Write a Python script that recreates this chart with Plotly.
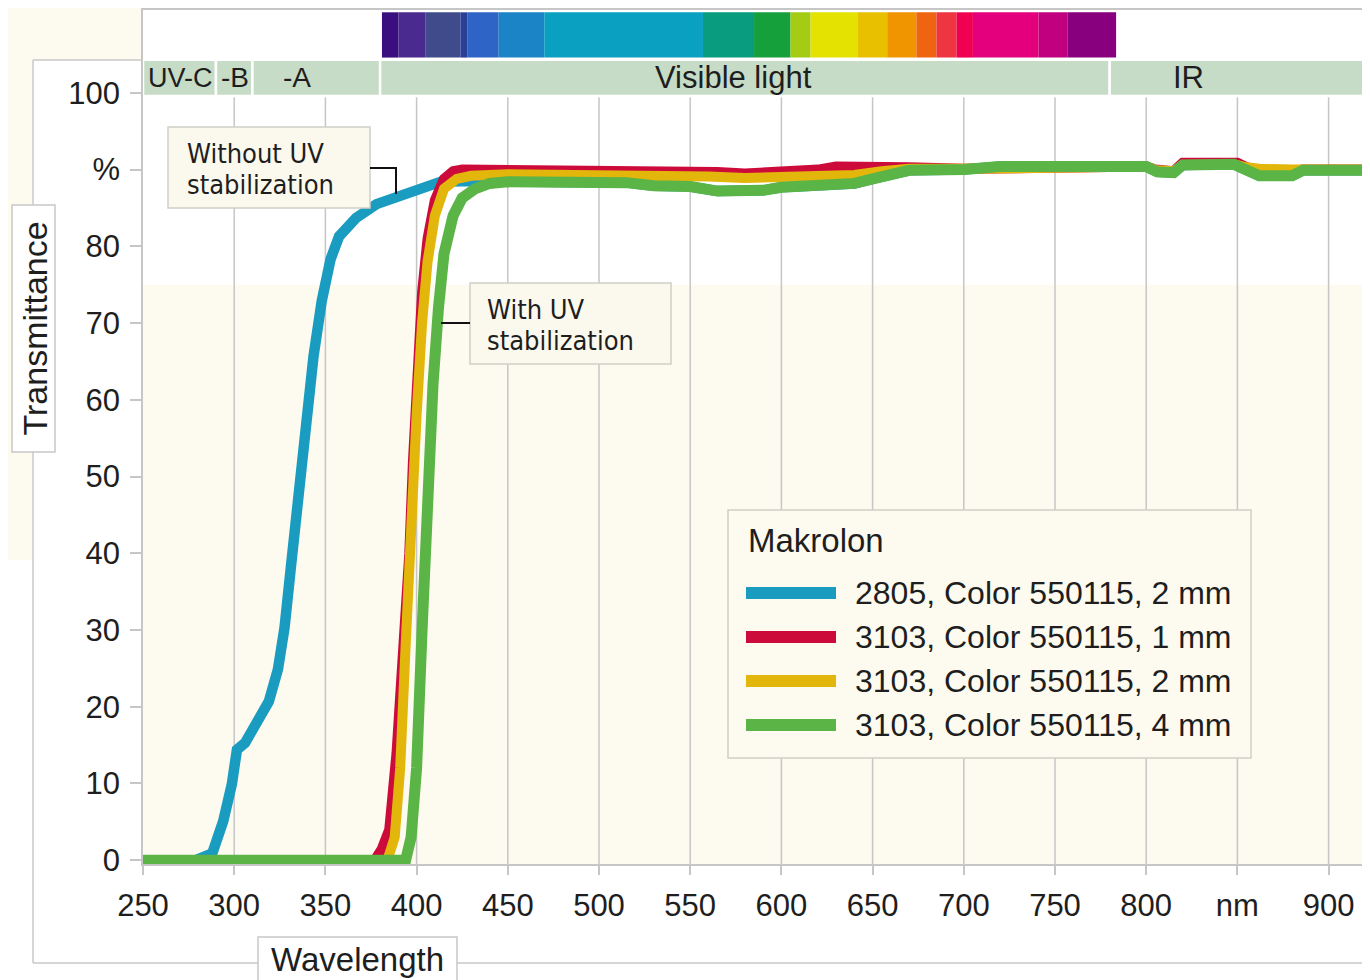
import plotly.graph_objects as go

# ---------------- data ----------------
series_names = ["2805, Color 550115, 2 mm", "3103, Color 550115, 1 mm",
                "3103, Color 550115, 2 mm", "3103, Color 550115, 4 mm"]
series_colors = ["#1a9bc0", "#cd0b3b", "#e2b60a", "#5bb446"]

wl_2805 = [250, 279, 288, 294, 298.7, 301.5, 306, 312.7, 319, 324, 327.6, 331.3, 335, 339.7,
           343.5, 348, 352.8, 357.5, 366.8, 378, 393, 405, 413, 430, 450, 500, 515, 530, 550,
           565, 580, 590, 600, 620, 640, 650, 660, 670, 700, 714, 720, 800, 806, 815, 820,
           848, 855, 862, 880, 886, 923]
tr_2805 = [0, 0, 0.9, 5.1, 9.9, 14.4, 15.3, 18.3, 20.7, 24.9, 30.3, 38.7, 47.1, 56.7,
           65.7, 72.9, 78.3, 81.3, 83.7, 85.5, 86.7, 87.8, 88.4, 88.5, 88.4, 88.4, 88.3, 87.9, 87.8,
           87.2, 87.1, 87.3, 87.7, 88.0, 88.2, 88.8, 89.5, 89.9, 90.0, 90.1, 90.4, 90.4, 89.7, 89.6, 90.6,
           90.7, 89.8, 89.2, 89.2, 89.9, 89.9]

wl_3103_1 = [250, 377, 381, 385, 389, 393, 396, 398, 400, 403, 406, 410, 415, 420, 425, 450,
             500, 550, 565, 580, 590, 600, 620, 630, 650, 660, 670, 700, 750, 800, 805, 815,
             820, 850, 856, 870, 886, 923]
tr_3103_1 = [0, 0, 1.5, 4, 14, 27, 40, 52, 62, 74, 81, 86, 88.8, 89.8, 90, 90,
             90, 89.9, 89.7, 89.5, 89.6, 89.8, 90, 90.4, 90.5, 90.5, 90.3, 90.1, 90.4, 90.4, 90.0, 89.8,
             90.9, 90.9, 90.2, 89.6, 90, 90]

wl_3103_2 = [250, 384, 388, 391, 394, 397, 400, 403, 406, 410, 415, 422, 430, 450, 500, 540,
             560, 580, 600, 620, 640, 655, 670, 700, 750, 800, 806, 815, 820, 848, 855, 862,
             880, 886, 923]
tr_3103_2 = [0, 0, 3, 12, 28, 45, 58, 70, 78, 84, 87.5, 88.8, 89.2, 89.4, 89.4, 89.3,
             89.1, 88.9, 89.0, 89.1, 89.3, 89.8, 90.1, 90.1, 90.4, 90.4, 89.9, 89.8, 90.6, 90.7, 90.3, 90.1,
             90.0, 90.0, 90.0]

wl_3103_4 = [250, 394, 397, 400, 403, 406, 409, 412, 415, 420, 425, 432, 440, 450, 500, 515,
             530, 550, 565, 580, 590, 600, 620, 640, 650, 660, 670, 700, 714, 720, 800, 806,
             815, 820, 848, 855, 862, 880, 886, 923]
tr_3103_4 = [0, 0, 3, 12, 30, 47, 62, 72, 79, 84, 86.3, 87.5, 88.2, 88.4, 88.4, 88.3,
             87.9, 87.8, 87.2, 87.1, 87.3, 87.7, 88.0, 88.2, 88.8, 89.5, 89.9, 90.0, 90.1, 90.4, 90.4, 89.7,
             89.6, 90.6, 90.7, 89.8, 89.2, 89.2, 89.9, 89.9]

x_ticks = [250, 300, 350, 400, 450, 500, 550, 600, 650, 700, 750, 800, 850, 900]
x_ticktext = ["250", "300", "350", "400", "450", "500", "550", "600", "650", "700", "750", "800", "nm", "900"]
y_ticks = [0, 10, 20, 30, 40, 50, 60, 70, 80, 90, 100]
y_ticktext = ["0", "10", "20", "30", "40", "50", "60", "70", "80", "%", "100"]

band_names = ["UV-C", "-B", "-A", "Visible light", "IR"]
band_start = [250, 290, 310, 380, 780]
band_end = [290, 310, 380, 780, 923]
band_label_x = [270.8, 300.4, 334.4, 574, 823]

spec_start = [381, 390, 405, 424, 428, 445, 470, 557, 585, 605, 616, 642, 658, 674, 685, 696, 705, 741, 757]
spec_end = [390, 405, 424, 428, 445, 470, 557, 585, 605, 616, 642, 658, 674, 685, 696, 705, 741, 757, 783.5]
spec_colors = ["#3a0e7e", "#4a2a8e", "#3f4b8a", "#2a3f96", "#2e64c6", "#1b84c6", "#0aa0c2", "#0a9c7e",
               "#16a03c", "#a4cc14", "#e4e200", "#e8c000", "#f09400", "#ef6410", "#ef3640", "#ef0050",
               "#e4007c", "#c0007e", "#88007e"]

# ---------------- layout calibration ----------------
# page has an 8px body margin, so the figure is 8px smaller than the window
W, H = 1362, 972
L, R, T, B = 135, 0, 2, 116
# plot area in window pixels
PL, PR, PT, PB = 143, 1370, 10, 864
X0, X1 = 250.0, 922.7
Y0, Y1 = -0.5, 110.8


def px2x(px):
    return X0 + (px - PL) / (PR - PL) * (X1 - X0)


def px2y(py):
    return Y0 + (PB - py) / (PB - PT) * (Y1 - Y0)


def ppx(px):
    return (px - PL) / (PR - PL)


def ppy(py):
    return (PB - py) / (PB - PT)


SANS = "Liberation Sans, Arial, sans-serif"
VERD = "DejaVu Sans Condensed, DejaVu Sans, Verdana, sans-serif"
TXT = "#1e1e1e"
GRID = "#c6c6c6"
CREAM = "#fdfbef"
BOXLINE = "#cfcfc8"

fig = go.Figure()
all_x = [wl_2805, wl_3103_1, wl_3103_2, wl_3103_4]
all_y = [tr_2805, tr_3103_1, tr_3103_2, tr_3103_4]
widths = [10.5, 10, 10, 11]
for xs, ys, nm, col, w in zip(all_x, all_y, series_names, series_colors, widths):
    fig.add_trace(go.Scatter(x=xs, y=ys, mode="lines", name=nm,
                             line=dict(color=col, width=w, shape="linear"),
                             hoverinfo="x+y+name"))

shapes = []
# backgrounds
shapes.append(dict(type="rect", xref="x", yref="y", x0=X0, x1=X1, y0=Y0, y1=75,
                   fillcolor=CREAM, line_width=0, layer="below"))
shapes.append(dict(type="rect", xref="paper", yref="paper", x0=ppx(0), x1=ppx(33), y0=ppy(560), y1=ppy(0),
                   fillcolor=CREAM, line_width=0, layer="below"))
shapes.append(dict(type="rect", xref="paper", yref="paper", x0=ppx(0), x1=ppx(143), y0=ppy(60), y1=ppy(0),
                   fillcolor=CREAM, line_width=0, layer="below"))
# vertical grid lines
for xv in x_ticks[1:]:
    shapes.append(dict(type="line", xref="x", yref="y", x0=xv, x1=xv, y0=Y0, y1=99.6,
                       line=dict(color=GRID, width=1.5), layer="below"))
# wavelength bands
for s, e in zip(band_start, band_end):
    shapes.append(dict(type="rect", xref="x", yref="y", x0=s, x1=e, y0=99.6, y1=104.3,
                       fillcolor="#c6dcc6", line=dict(color="white", width=2.5), layer="above"))
# spectrum bar
for s, e, c in zip(spec_start, spec_end, spec_colors):
    shapes.append(dict(type="rect", xref="x", yref="y", x0=s, x1=e, y0=104.6, y1=110.5,
                       fillcolor=c, line_width=0, layer="above"))
# outer frame
FR = dict(color="#c8c8c8", width=1.5)
shapes.append(dict(type="line", xref="paper", yref="paper", x0=ppx(33), x1=ppx(143), y0=ppy(60), y1=ppy(60), line=FR))
shapes.append(dict(type="line", xref="paper", yref="paper", x0=ppx(33), x1=ppx(33), y0=ppy(60), y1=ppy(963), line=FR))
shapes.append(dict(type="line", xref="paper", yref="paper", x0=ppx(33), x1=1, y0=ppy(963), y1=ppy(963), line=FR))
# axis title boxes
shapes.append(dict(type="rect", xref="paper", yref="paper", x0=ppx(12), x1=ppx(55), y0=ppy(452), y1=ppy(205),
                   fillcolor="white", line=dict(color="#c8c8c8", width=1.5)))
shapes.append(dict(type="rect", xref="paper", yref="paper", x0=ppx(258), x1=ppx(457), y0=ppy(990), y1=ppy(937),
                   fillcolor="white", line=dict(color="#c8c8c8", width=1.5)))
# annotation boxes
shapes.append(dict(type="rect", xref="x", yref="y", x0=px2x(168), x1=px2x(370), y0=px2y(208), y1=px2y(127),
                   fillcolor="#fbf9ee", line=dict(color=BOXLINE, width=1.5), layer="above"))
shapes.append(dict(type="rect", xref="x", yref="y", x0=px2x(470), x1=px2x(671), y0=px2y(364), y1=px2y(283),
                   fillcolor="#fbf9ee", line=dict(color=BOXLINE, width=1.5), layer="above"))
# leader lines
LL = dict(color="#111111", width=2)
shapes.append(dict(type="path", xref="x", yref="y",
                   path=f"M {px2x(370)},{px2y(168)} L {px2x(396)},{px2y(168)} L {px2x(396)},{px2y(194)}",
                   line=LL, layer="above"))
shapes.append(dict(type="line", xref="x", yref="y", x0=px2x(441), x1=px2x(470), y0=px2y(323), y1=px2y(323),
                   line=LL, layer="above"))
# legend box
shapes.append(dict(type="rect", xref="x", yref="y", x0=px2x(728), x1=px2x(1251), y0=px2y(758), y1=px2y(510),
                   fillcolor=CREAM, line=dict(color=BOXLINE, width=1.5), layer="above"))
legend_rows = [593, 637, 681, 725]
for r, col in zip(legend_rows, series_colors):
    shapes.append(dict(type="line", xref="x", yref="y", x0=px2x(746), x1=px2x(836), y0=px2y(r), y1=px2y(r),
                       line=dict(color=col, width=12), layer="above"))

annotations = []


def txt(x, y, text, size, family=SANS, xanchor="center", xref="x", yref="y", angle=0):
    annotations.append(dict(x=x, y=y, xref=xref, yref=yref, text=text, showarrow=False,
                            xanchor=xanchor, yanchor="middle", textangle=angle,
                            font=dict(family=family, size=size, color=TXT)))


band_sizes = [27, 28, 28, 31, 31]
for nm, lx, sz in zip(band_names, band_label_x, band_sizes):
    txt(lx, 102.0, nm, sz)
txt(px2x(746), px2y(540), "Makrolon", 33, xanchor="left")
for r, nm in zip(legend_rows, series_names):
    txt(px2x(853), px2y(r), nm, 32, xanchor="left")
txt(px2x(185), px2y(153), "Without UV", 27, family=VERD, xanchor="left")
txt(px2x(185), px2y(184), "stabilization", 27, family=VERD, xanchor="left")
txt(px2x(485), px2y(309), "With UV", 27, family=VERD, xanchor="left")
txt(px2x(485), px2y(340), "stabilization", 27, family=VERD, xanchor="left")
txt(ppx(34), ppy(328.5), "Transmittance", 34, xref="paper", yref="paper", angle=-90)
txt(ppx(357.5), ppy(960), "Wavelength", 33, xref="paper", yref="paper")

fig.update_layout(
    width=W, height=H,
    margin=dict(l=L, r=R, t=T, b=B, pad=0),
    paper_bgcolor="white", plot_bgcolor="white",
    showlegend=False,
    shapes=shapes, annotations=annotations,
    xaxis=dict(range=[X0, X1], tickvals=x_ticks, ticktext=x_ticktext, ticks="outside",
               ticklen=9, tickwidth=1.5, tickcolor=GRID, showline=True, linecolor=GRID, linewidth=1.5,
               mirror=True, showgrid=False, zeroline=False, ticklabelstandoff=4,
               tickfont=dict(family=SANS, size=31, color=TXT)),
    yaxis=dict(range=[Y0, Y1], tickvals=y_ticks, ticktext=y_ticktext, ticks="outside",
               ticklen=11, tickwidth=1.5, tickcolor=GRID, showline=True, linecolor=GRID, linewidth=1.5,
               showgrid=False, zeroline=False, ticklabelstandoff=4,
               tickfont=dict(family=SANS, size=31, color=TXT)),
)

fig.write_html("out.html")
